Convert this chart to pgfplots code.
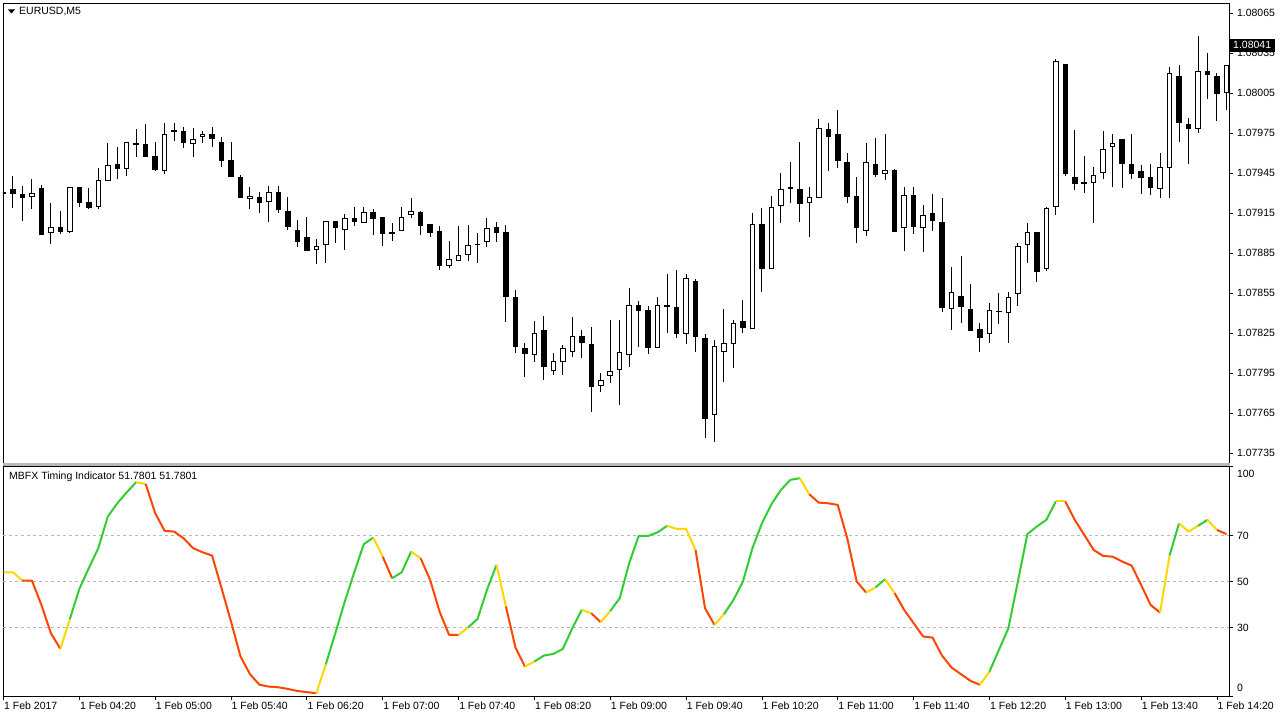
\documentclass[border=0pt]{standalone}
\usepackage{fontspec}
\setmainfont{Liberation Sans}
\usepackage{pgfplots}
\usepackage{pgfplotstable}
\pgfplotsset{compat=1.18}

\definecolor{tgreen}{HTML}{32CD32}
\definecolor{tred}{HTML}{FF4500}
\definecolor{tyellow}{HTML}{FFD700}
\newcommand\tickfont{\fontsize{10.5pt}{12pt}\selectfont}

% EURUSD M5, prices in points above 1.07700 (1 point = 0.00001)
\pgfplotstableread{
i o h l c
0 231.0 237.5 219.0 229.5
1 233.3 243.0 218.8 229.5
2 229.8 235.5 209.3 226.8
3 227.5 240.5 218.0 230.0
4 233.8 236.3 198.5 199.0
5 200.5 223.0 191.8 204.5
6 204.5 216.8 199.3 201.0
7 201.0 235.0 200.5 234.5
8 234.5 235.0 219.5 222.5
9 223.8 233.8 218.0 218.8
10 219.5 248.8 218.0 239.8
11 239.5 267.5 239.5 251.0
12 252.3 264.5 241.0 248.0
13 248.0 268.8 243.0 268.3
14 268.0 278.5 257.5 266.5
15 267.3 282.0 257.0 257.0
16 258.0 268.8 246.5 247.8
17 247.0 283.0 244.5 274.3
18 276.0 283.0 269.5 277.5
19 276.8 279.5 263.8 267.5
20 266.8 278.8 257.0 270.5
21 272.5 276.8 267.5 274.5
22 274.3 279.5 264.8 270.5
23 268.8 272.0 250.0 254.3
24 254.8 268.8 242.0 242.0
25 242.5 243.5 226.8 226.8
26 226.0 234.5 218.0 228.3
27 227.3 230.8 215.5 222.5
28 223.3 235.5 208.3 230.8
29 230.8 235.5 215.5 217.8
30 216.8 227.3 202.3 204.8
31 202.5 209.8 189.8 193.3
32 197.0 212.3 187.0 187.0
33 187.3 195.5 176.8 190.8
34 191.0 209.5 177.5 209.5
35 209.5 209.5 193.0 203.8
36 202.3 214.3 187.3 211.3
37 211.3 220.0 205.5 208.3
38 207.5 220.0 207.5 215.8
39 215.8 218.5 198.5 211.0
40 212.3 212.3 190.5 199.5
41 200.9 208.0 194.3 199.6
42 201.5 220.0 201.5 212.3
43 213.8 226.3 211.5 216.8
44 215.8 216.5 198.5 205.5
45 207.0 207.0 197.5 200.5
46 201.8 205.8 172.3 175.8
47 175.8 194.3 173.8 180.5
48 179.3 205.3 179.3 183.8
49 183.8 206.0 179.3 191.0
50 192.3 200.5 178.0 191.0
51 193.3 211.3 190.0 204.3
52 205.0 208.8 193.8 200.0
53 200.8 206.3 133.8 152.5
54 152.0 157.5 110.0 114.5
55 114.3 117.5 92.5 109.3
56 108.5 134.5 103.8 125.5
57 127.5 138.0 89.8 99.8
58 97.0 110.5 93.8 104.3
59 103.3 116.3 94.0 114.3
60 111.3 137.0 107.5 123.0
61 123.0 127.5 106.8 117.5
62 117.0 130.0 65.8 84.8
63 85.8 95.5 81.0 90.0
64 92.8 135.0 88.0 96.5
65 97.3 135.0 71.3 110.8
66 108.5 159.3 99.5 146.0
67 146.0 149.3 115.0 142.0
68 142.5 145.5 109.3 113.8
69 113.8 152.0 113.8 146.0
70 146.0 169.3 125.0 144.8
71 145.0 172.5 121.8 124.3
72 124.5 169.3 116.8 166.3
73 164.5 165.5 111.3 122.0
74 121.3 124.3 46.3 60.8
75 63.8 120.0 43.8 115.8
76 111.3 143.3 88.8 117.5
77 116.8 135.0 98.8 132.5
78 134.5 150.0 125.0 128.8
79 128.0 215.0 128.0 207.0
80 207.0 218.8 156.3 173.0
81 173.0 228.3 173.0 220.0
82 220.8 245.0 207.5 233.3
83 234.5 253.8 222.5 233.3
84 233.3 268.8 208.3 221.8
85 222.5 234.5 197.5 227.0
86 226.8 285.5 226.8 279.3
87 278.3 283.0 247.0 272.0
88 274.3 292.5 248.8 254.3
89 253.8 260.0 222.5 227.5
90 228.3 242.0 193.0 203.8
91 202.0 268.0 198.3 253.8
92 252.0 271.3 242.0 243.5
93 244.8 274.3 240.0 247.5
94 247.5 248.3 201.3 201.3
95 204.0 235.0 187.0 228.8
96 228.8 234.5 199.3 204.5
97 204.0 221.3 186.3 213.8
98 215.0 229.3 202.0 209.5
99 208.8 226.3 141.3 143.8
100 143.0 174.5 127.5 156.3
101 153.0 183.3 132.5 145.0
102 143.3 162.0 127.0 127.0
103 128.3 132.5 111.3 121.8
104 124.5 147.5 118.0 142.5
105 141.0 155.0 131.8 141.8
106 140.0 156.3 117.5 152.0
107 154.5 192.5 145.8 190.5
108 191.0 207.5 177.5 201.3
109 201.3 201.3 163.3 171.3
110 173.0 219.5 171.8 218.8
111 220.0 330.5 213.8 329.3
112 327.0 327.0 243.3 244.3
113 242.5 277.5 232.5 236.8
114 238.5 258.3 230.5 237.5
115 237.5 249.5 207.5 243.8
116 245.0 276.8 240.8 263.3
117 265.0 274.3 234.5 268.0
118 270.8 270.8 233.8 251.8
119 251.8 274.3 240.8 244.5
120 246.8 251.3 229.5 241.3
121 242.0 251.8 228.5 234.0
122 233.3 260.0 226.3 250.0
123 249.3 324.5 226.3 320.0
124 318.3 326.3 268.3 282.5
125 282.0 286.3 251.8 278.3
126 278.3 348.3 275.0 321.8
127 321.8 335.0 300.5 318.8
128 318.3 320.0 284.5 304.8
129 305.0 326.3 292.5 326.3
}\candles

% MBFX Timing Indicator
\pgfplotstableread{
i v
0 54.0
1 54.0
2 50.4
3 50.4
4 39.8
5 27.5
6 20.7
7 33.7
8 46.8
9 55.8
10 64.5
11 78.2
12 84.0
13 88.8
14 93.2
15 92.4
16 79.7
17 72.0
18 71.7
19 68.8
20 64.5
21 62.7
22 61.3
23 47.1
24 32.6
25 17.4
26 9.7
27 5.1
28 4.3
29 4.0
30 3.3
31 2.4
32 1.9
33 1.4
34 14.0
35 27.5
36 41.3
37 54.0
38 66.2
39 69.1
40 60.8
41 51.4
42 54.0
43 63.0
44 60.1
45 50.7
46 36.9
47 26.8
48 26.8
49 30.0
50 33.7
51 46.4
52 57.2
53 39.1
54 21.3
55 13.0
56 15.2
57 17.8
58 18.5
59 20.7
60 29.7
61 37.7
62 36.2
63 32.3
64 37.2
65 42.7
66 58.0
67 69.8
68 69.8
69 71.4
70 74.2
71 72.9
72 72.9
73 63.7
74 38.4
75 31.1
76 35.8
77 42.0
78 50.0
79 64.5
80 75.3
81 83.6
82 89.8
83 94.2
84 94.9
85 87.9
86 84.3
87 84.0
88 83.3
89 68.8
90 50.0
91 45.2
92 47.5
93 51.0
94 44.9
95 37.7
96 31.9
97 26.1
98 25.6
99 17.8
100 12.6
101 9.7
102 6.8
103 5.1
104 10.8
105 20.3
106 29.7
107 50.0
108 70.6
109 73.9
110 76.8
111 84.8
112 84.8
113 76.8
114 70.3
115 63.7
116 61.1
117 60.8
118 58.7
119 56.9
120 48.5
121 39.8
122 36.5
123 61.3
124 75.3
125 71.7
126 74.2
127 76.8
128 72.4
129 70.6
}\mbfx

% one coloured run of the indicator line, from bar #2 to bar #3
\newcommand{\seg}[3]{\addplot[#1, line width=2pt, line join=round, restrict x to domain=#2:#3] table[x=i, y=v] {\mbfx};}

\pgfplotsset{
  mt/.style={
    scale only axis, anchor=south west,
    width=1226.5pt, xmin=-0.053, xmax=129.32,
    axis line style={black, line width=0.8pt},
    tick align=outside, major tick length=4pt,
    tick style={black, line width=0.8pt},
    ytick pos=right, yticklabel pos=right,
    yticklabel style={anchor=west, font=\tickfont},
    xticklabel style={font=\tickfont},
    /pgf/number format/assume math mode=true,
  },
  % candle parts are drawn only as error bars, no line and no marks
  body/.style={draw=none, mark=none, error bars/.cd, y dir=both, y explicit, error mark=none},
}

\begin{document}
\begin{tikzpicture}
\useasboundingbox (0,0) rectangle (1280pt,720pt);
\fill[white] (0,0) rectangle (1280pt,720pt);

\begin{axis}[mt, at={(3pt,256.5pt)}, height=460.5pt,
    ymin=27.375, ymax=372.75, xtick=\empty,
    ytick={35,65,...,365},
    yticklabels={1.07735,1.07765,1.07795,1.07825,1.07855,1.07885,1.07915,1.07945,1.07975,1.08005,1.08035,1.08065}]
  % wicks
  \addplot[body, error bar style={draw=black, line width=1pt}]
    table[x=i, y expr={(\thisrow{h}+\thisrow{l})/2}, y error expr={(\thisrow{h}-\thisrow{l})/2}] {\candles};
  % bodies
  \addplot[body, error bar style={draw=black, line width=5.5pt}]
    table[x=i, y expr={(\thisrow{o}+\thisrow{c})/2}, y error expr={abs(\thisrow{c}-\thisrow{o})/2}] {\candles};
  % hollow part of bull candles
  \addplot[draw=none, mark=none, restrict expr to domain={\thisrow{c}-\thisrow{o}}{1.6:1000},
      error bars/.cd, y dir=both, y explicit, error mark=none,
      error bar style={draw=white, line width=3.5pt}]
    table[x=i, y expr={(\thisrow{o}+\thisrow{c})/2}, y error expr={abs(\thisrow{c}-\thisrow{o})/2-0.75}] {\candles};
  \coordinate (bid) at (axis cs:129.32,341);
\end{axis}

\fill[gray!55] (3pt,253.5pt) rectangle (1229.5pt,256.5pt);

\begin{axis}[mt, at={(3pt,23.5pt)}, height=230pt,
    ymin=0, ymax=100,
    xtick={0,8,...,128}, xtick pos=left,
    xticklabels={1 Feb 2017,1 Feb 04:20,1 Feb 05:00,1 Feb 05:40,1 Feb 06:20,1 Feb 07:00,1 Feb 07:40,1 Feb 08:20,1 Feb 09:00,1 Feb 09:40,1 Feb 10:20,1 Feb 11:00,1 Feb 11:40,1 Feb 12:20,1 Feb 13:00,1 Feb 13:40,1 Feb 14:20},
    xticklabel style={anchor=north west, inner sep=1pt, xshift=-0.5pt},
    ytick={0,100},
    yticklabels={\raisebox{9pt}[\height][\depth]{0},\raisebox{-7pt}[\height][\depth]{100}},
    extra y ticks={30,50,70}, extra y tick labels={30,50,70},
    extra y tick style={grid=major},
    grid style={gray!55, line width=0.8pt, dash pattern=on 3pt off 3pt}]
  \seg{tyellow}{0}{2}
  \seg{tred}{2}{6}
  \seg{tyellow}{6}{7}
  \seg{tgreen}{7}{14}
  \seg{tyellow}{14}{15}
  \seg{tred}{15}{33}
  \seg{tyellow}{33}{34}
  \seg{tgreen}{34}{39}
  \seg{tyellow}{39}{40}
  \seg{tred}{40}{41}
  \seg{tgreen}{41}{43}
  \seg{tyellow}{43}{44}
  \seg{tred}{44}{48}
  \seg{tyellow}{48}{49}
  \seg{tgreen}{49}{52}
  \seg{tyellow}{52}{53}
  \seg{tred}{53}{55}
  \seg{tyellow}{55}{56}
  \seg{tgreen}{56}{61}
  \seg{tyellow}{61}{62}
  \seg{tred}{62}{63}
  \seg{tyellow}{63}{64}
  \seg{tgreen}{64}{70}
  \seg{tyellow}{70}{73}
  \seg{tred}{73}{75}
  \seg{tyellow}{75}{76}
  \seg{tgreen}{76}{84}
  \seg{tyellow}{84}{85}
  \seg{tred}{85}{91}
  \seg{tyellow}{91}{92}
  \seg{tgreen}{92}{93}
  \seg{tyellow}{93}{94}
  \seg{tred}{94}{103}
  \seg{tyellow}{103}{104}
  \seg{tgreen}{104}{111}
  \seg{tyellow}{111}{112}
  \seg{tred}{112}{122}
  \seg{tyellow}{122}{123}
  \seg{tgreen}{123}{124}
  \seg{tyellow}{124}{126}
  \seg{tgreen}{126}{127}
  \seg{tyellow}{127}{128}
  \seg{tred}{128}{129}
\end{axis}

\node[anchor=west, fill=black, text=white, inner xsep=3.5pt, inner ysep=3pt, font=\tickfont] at (bid) {1.08041};
\fill[black] (8pt,710.5pt) -- (15pt,710.5pt) -- (11.5pt,706.5pt) -- cycle;
\node[anchor=west, inner sep=0pt, font=\tickfont] at (19pt,708pt) {EURUSD,M5};
\node[anchor=west, inner sep=0pt, font=\tickfont] at (9pt,243pt) {MBFX Timing Indicator 51.7801 51.7801};
\end{tikzpicture}
\end{document}
